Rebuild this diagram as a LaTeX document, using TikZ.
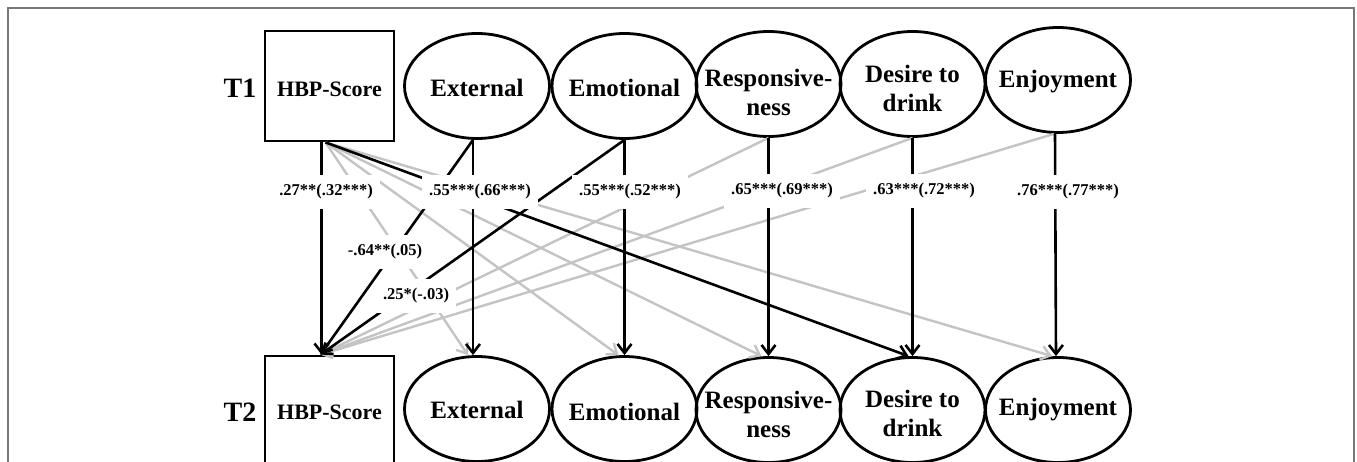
\documentclass[tikz,border=0pt]{standalone}
\usepackage{fontspec}
\setmainfont{Liberation Serif}
\usetikzlibrary{shapes.geometric,arrows.meta}
\definecolor{lgray}{RGB}{196,196,196}
\definecolor{framec}{RGB}{120,120,120}
\begin{document}
\begin{tikzpicture}[x=1pt,y=-1pt,
  lat/.style={draw,line width=2.8pt,ellipse,minimum width=145pt,minimum height=105pt,inner sep=0pt},
  obs/.style={draw,line width=2.8pt,rectangle,minimum width=129pt,minimum height=110pt,inner sep=0pt},
  hbp/.style={font=\fontsize{22}{26}\selectfont\bfseries,inner sep=0pt},
  nm/.style={font=\fontsize{25}{29}\selectfont\bfseries,align=center,inner sep=0pt},
  tl/.style={font=\fontsize{28}{30}\selectfont\bfseries,inner sep=0pt},
  lab/.style={fill=white,font=\fontsize{16.5}{18}\selectfont\bfseries,inner xsep=7pt,inner ysep=10pt},
  blk/.style={line width=2.6pt,-{Straight Barb[length=9pt,width=14pt]}},
  gry/.style={line width=2.4pt,draw=lgray,-{Straight Barb[length=9pt,width=14pt]}},
]
\useasboundingbox (0,0) rectangle (1357,462);
\clip (0,0) rectangle (1357,462);
\fill[white] (0,0) rectangle (1357,462);
% frame
\draw[framec,line width=2pt] (8,480) -- (8,8) -- (1354,8) -- (1354,480);

% T1 row
\node[tl] (T1) at (240,88) {T1};
\node[obs,label={[hbp,yshift=-3pt]center:HBP-Score}] (H1) at (329.5,86) {};
\node[lat,label={[nm,yshift=-2pt]center:External}] (E1) at (477,86) {};
\node[lat,label={[nm,yshift=-2pt]center:Emotional}] (M1) at (624.5,86) {};
\node[lat,label={[nm,yshift=-8pt]center:Responsive-\\ness}] (R1) at (768.5,84) {};
\node[lat,label={[nm,yshift=-4pt]center:Desire to\\drink}] (D1) at (912.5,84) {};
\node[lat,label={[nm,yshift=-2pt]center:Enjoyment}] (J1) at (1058,80) {};

% T2 row
\node[tl] (T2) at (240,412) {T2};
\node[obs,label={[hbp,yshift=-1pt]center:HBP-Score}] (H2) at (329.5,411) {};
\node[lat,label={[nm,yshift=-1pt]center:External}] (E2) at (477,409) {};
\node[lat,label={[nm,yshift=-3pt]center:Emotional}] (M2) at (624.5,409) {};
\node[lat,label={[nm,yshift=-4pt]center:Responsive-\\ness}] (R2) at (768.5,410) {};
\node[lat,label={[nm,yshift=-3pt]center:Desire to\\drink}] (D2) at (912.5,410) {};
\node[lat,label={[nm]center:Enjoyment}] (J2) at (1058,410) {};

% grey (non-significant) paths
\draw[gry] ([xshift=-4pt]H1.south) -- ([xshift=-9pt]E2.north);
\draw[gry] ([xshift=-4pt]H1.south) -- ([xshift=-6pt]M2.north);
\draw[gry] ([xshift=-4pt]H1.south) -- ([xshift=-7pt]R2.north);
\draw[gry] ([xshift=-4pt]H1.south) -- ([xshift=-6pt]J2.north);
\draw[gry] (R1.south) -- ([xshift=-9pt]H2.north);
\draw[gry] (D1.south) -- ([xshift=-9pt]H2.north);
\draw[gry] ([xshift=-4pt]J1.south) -- ([xshift=-9pt]H2.north);

% black (significant) paths
\draw[blk] ([xshift=-8pt]H1.south) -- ([xshift=-8pt]H2.north);
\draw[blk] ([xshift=-4pt]E1.south) -- ([xshift=-4pt]E2.north);
\draw[blk] (M1.south) -- (M2.north);
\draw[blk] (R1.south) -- (R2.north);
\draw[blk] (D1.south) -- (D2.north);
\draw[blk] ([xshift=-3pt]J1.south) -- ([xshift=-2pt]J2.north);
\draw[blk] ([xshift=-4pt]H1.south) -- ([xshift=-4pt]D2.north);
\draw[blk] ([xshift=-4pt]E1.south) -- ([xshift=-9pt]H2.north);
\draw[blk] (M1.south) -- ([xshift=-9pt]H2.north);

% coefficient labels
\node[lab] (c1) at (326,192) {.27**(.32***)};
\node[lab] (c2) at (480,192) {.55***(.66***)};
\node[lab] (c3) at (630,192) {.55***(.52***)};
\node[lab] (c4) at (782,191) {.65***(.69***)};
\node[lab] (c5) at (924,191) {.63***(.72***)};
\node[lab] (c6) at (1068,192) {.76***(.77***)};
\node[lab] (c7) at (385,252) {-.64**(.05)};
\node[lab] (c8) at (416,296) {.25*(-.03)};
\end{tikzpicture}
\end{document}
